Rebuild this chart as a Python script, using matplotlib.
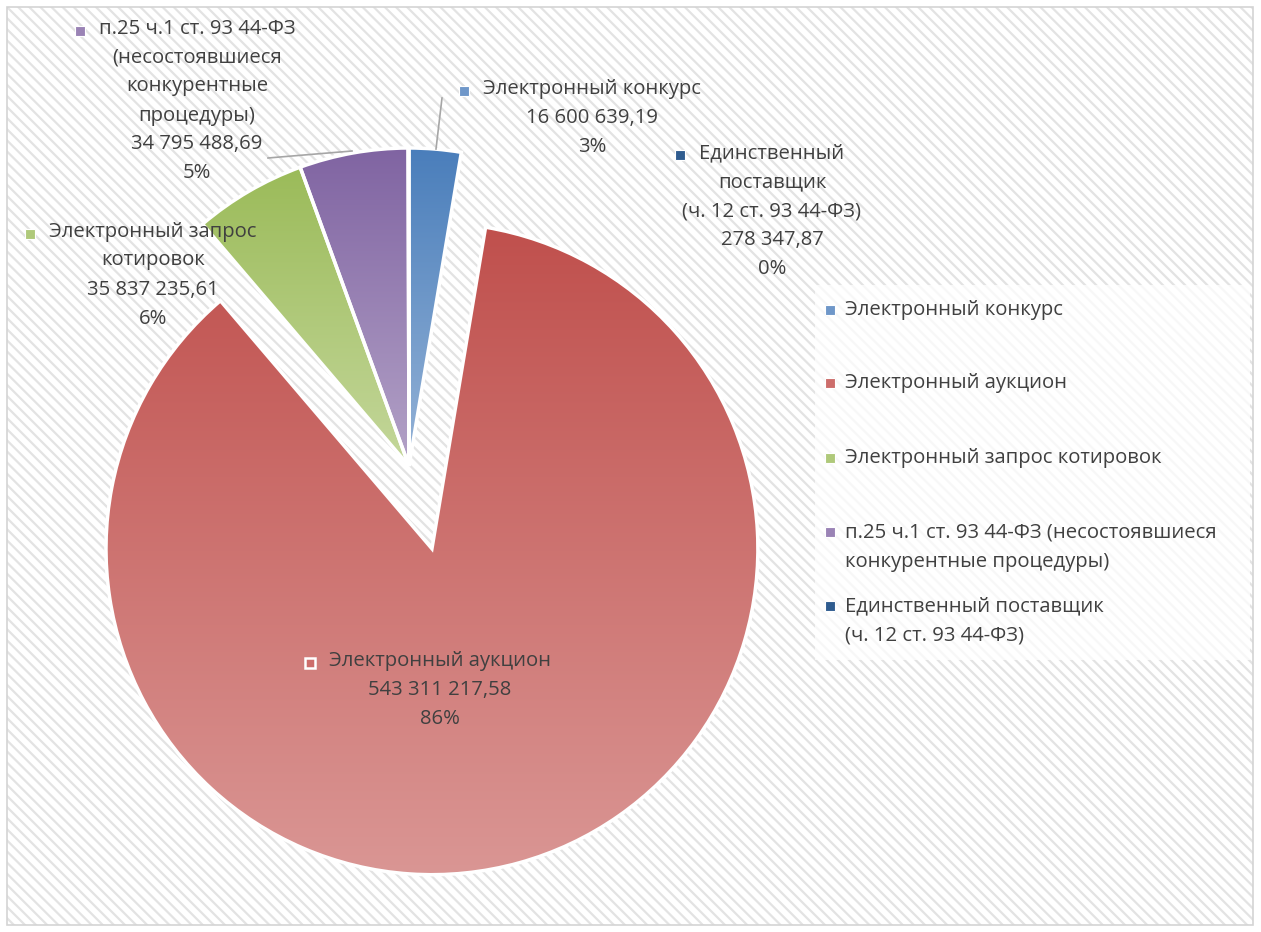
import numpy as np
import matplotlib
matplotlib.use('Agg')
import matplotlib.pyplot as plt
import matplotlib.patches as mpatches
from matplotlib.colors import to_rgb

plt.rcParams['font.family'] = ['Open Sans', 'DejaVu Sans']
plt.rcParams['hatch.linewidth'] = 1.6

# данные
names = ['Электронный конкурс', 'Электронный аукцион', 'Электронный запрос котировок',
         'п.25 ч.1 ст. 93 44-ФЗ (несостоявшиеся конкурентные процедуры)',
         'Единственный поставщик (ч. 12 ст. 93 44-ФЗ)']
values = [16600639.19, 543311217.58, 35837235.61, 34795488.69, 278347.87]
value_labels = ['16 600 639,19', '543 311 217,58', '35 837 235,61', '34 795 488,69', '278 347,87']
pct_labels = ['3%', '86%', '6%', '5%', '0%']
label_names = ['Электронный конкурс', 'Электронный аукцион', 'Электронный запрос\nкотировок',
               'п.25 ч.1 ст. 93 44-ФЗ\n(несостоявшиеся\nконкурентные\nпроцедуры)',
               'Единственный\nпоставщик\n(ч. 12 ст. 93 44-ФЗ)']
legend_names = ['Электронный конкурс', 'Электронный аукцион', 'Электронный запрос котировок',
                'п.25 ч.1 ст. 93 44-ФЗ (несостоявшиеся\nконкурентные процедуры)',
                'Единственный поставщик\n(ч. 12 ст. 93 44-ФЗ)']
explode = [0, 0.27, 0, 0, 0]

top_colors = ['#4a7ebb', '#c0504d', '#9bbb59', '#8064a2', '#1f497d']
bottom_colors = ['#95b3d7', '#da9694', '#c4d79b', '#b3a2c7', '#4f81bd']
mid_colors = ['#6f97c9', '#cd6d6b', '#afc97a', '#9a83b5', '#2f5c8f']

W, H = 1261, 932
txt_color = '#404040'
fs = 14.6
R = 318


def sy(y):
    # экранная координата -> координата данных
    return H - y


fig = plt.figure(figsize=(W / 100, H / 100), dpi=100)
ax = fig.add_axes([0, 0, 1, 1])

# фон со штриховкой
ax.add_patch(mpatches.Rectangle((7, sy(925)), 1246, 918, facecolor='white',
                                edgecolor='#e3e3e3', hatch='\\\\\\', lw=0, zorder=0))
ax.add_patch(mpatches.Rectangle((7, sy(925)), 1246, 918, fill=False,
                                edgecolor='#d4d4d4', lw=1.2, zorder=1))

wedges, _ = ax.pie(values, explode=[e * R for e in explode], startangle=90,
                   counterclock=False, center=(409, sy(466)), radius=R,
                   colors=mid_colors,
                   wedgeprops=dict(edgecolor='white', linewidth=2.5))
# выдвинутый сектор в Excel чуть крупнее
wedges[1].set_radius(R * 1.025)

ax.set_xlim(0, W)
ax.set_ylim(0, H)
ax.set_aspect('auto')
ax.axis('off')

for i, w in enumerate(wedges):
    bb = w.get_path().get_extents()
    c0 = np.array(to_rgb(top_colors[i]))
    c1 = np.array(to_rgb(bottom_colors[i]))
    t = np.linspace(0, 1, 256)[:, None, None]
    grad = c0 * (1 - t) + c1 * t
    im = ax.imshow(grad, extent=[bb.x0, bb.x1, bb.y0, bb.y1], origin='upper',
                   aspect='auto', interpolation='bicubic', zorder=2)
    im.set_clip_path(w)
    w.set_facecolor('none')
    w.set_zorder(3)

ax.set_xlim(0, W)
ax.set_ylim(0, H)

# выноски
ax.plot([436, 442], [sy(149), sy(98)], color='#a6a6a6', lw=1.2, zorder=4)
ax.plot([268, 352], [sy(158), sy(151)], color='#a6a6a6', lw=1.2, zorder=4)

# подписи данных: (центр x, центр y)
label_pos = [(592, 118), (440, 690), (153, 275), (197, 101), (772, 211)]
fig.canvas.draw()
renderer = fig.canvas.get_renderer()
for i in range(len(values)):
    s = label_names[i] + '\n' + value_labels[i] + '\n' + pct_labels[i]
    x, y = label_pos[i]
    t = ax.text(x, sy(y), s, ha='center', va='center', fontsize=fs,
                color=txt_color, linespacing=1.6, zorder=5)
    first = ax.text(x, 0, label_names[i].split('\n')[0], ha='center', fontsize=fs)
    fw = first.get_window_extent(renderer).width
    first.remove()
    bb = t.get_window_extent(renderer)
    ax.plot(x - fw / 2 - 19, bb.y1 - 12, marker='s', ms=7, mfc=mid_colors[i],
            mec='white', mew=1.8 if i == 1 else 0.8, zorder=6)

# легенда
ax.add_patch(mpatches.Rectangle((815, sy(660)), 435, 375, facecolor='white',
                                alpha=0.75, lw=0, zorder=1))
legend_y = [310, 383, 458, 547, 621]
for i in range(len(names)):
    ax.text(845, sy(legend_y[i]), legend_names[i], ha='left', va='center',
            fontsize=fs, color=txt_color, linespacing=1.6, zorder=5)
    top_line = legend_y[i] - (legend_names[i].count('\n') * 15)
    ax.plot(830, sy(top_line), marker='s', ms=7, mfc=mid_colors[i],
            mec='white', mew=0.8, zorder=6)

fig.savefig('out.png', dpi=100)
